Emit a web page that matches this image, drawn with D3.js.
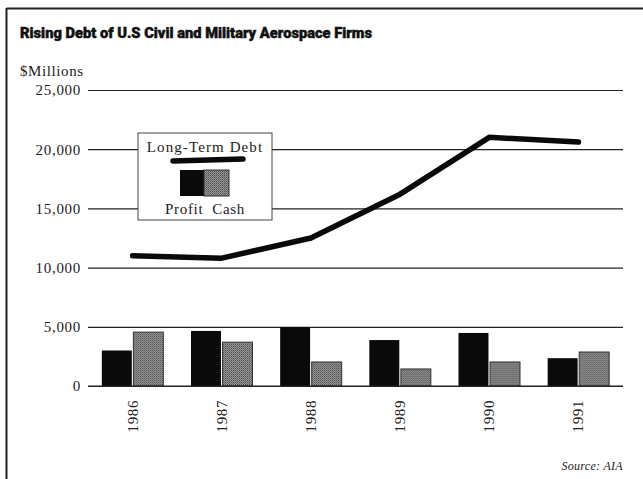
<!DOCTYPE html>
<html>
<head>
<meta charset="utf-8">
<script src="https://cdn.jsdelivr.net/npm/d3@7"></script>
<style>
  body { margin: 0; background: #fff; }
  svg { display: block; }
</style>
</head>
<body>
<div id="chart"></div>
<script>
// chart data
const years = ['1986', '1987', '1988', '1989', '1990', '1991'];
const longTermDebt = [11000, 10800, 12500, 16200, 21000, 20600];
const profit = [3000, 4650, 4980, 3880, 4480, 2350];
const cash = [4550, 3700, 2030, 1440, 2030, 2870];
const yTicks = [0, 5000, 10000, 15000, 20000, 25000];

const width = 643, height = 479;
const serif = '"Liberation Serif", "Times New Roman", serif';
const svg = d3.select('#chart').append('svg')
    .attr('width', width)
    .attr('height', height);

// dithered gray for the cash bars
const defs = svg.append('defs');
const pat = defs.append('pattern')
    .attr('id', 'dither')
    .attr('width', 2).attr('height', 2)
    .attr('patternUnits', 'userSpaceOnUse');
pat.append('rect').attr('width', 2).attr('height', 2).attr('fill', '#9a9a9a');
pat.append('rect').attr('width', 1).attr('height', 1).attr('fill', '#4a4a4a');
pat.append('rect').attr('x', 1).attr('y', 1).attr('width', 1).attr('height', 1).attr('fill', '#6a6a6a');

// frame (top and left edges only)
svg.append('line').attr('x1', 6.5).attr('x2', width).attr('y1', 8.5).attr('y2', 8.5)
    .attr('stroke', '#222').attr('stroke-width', 2);
svg.append('line').attr('x1', 6.5).attr('x2', 6.5).attr('y1', 8).attr('y2', height)
    .attr('stroke', '#222').attr('stroke-width', 2);

svg.append('text')
    .attr('x', 20).attr('y', 38)
    .attr('font-family', 'Roboto, sans-serif')
    .attr('font-weight', 900)
    .attr('font-size', 15)
    .attr('textLength', 352)
    .attr('lengthAdjust', 'spacingAndGlyphs')
    .attr('fill', '#111')
    .attr('stroke', '#111')
    .attr('stroke-width', 0.5)
    .text('Rising Debt of U.S Civil and Military Aerospace Firms');

svg.append('text')
    .attr('x', 20).attr('y', 76)
    .attr('font-family', serif)
    .attr('font-size', 15)
    .attr('letter-spacing', 0.6)
    .attr('fill', '#222')
    .text('$Millions');

const x0 = d3.scaleBand().domain(years).range([88, 623]).paddingInner(0.31).paddingOuter(0.155);
const x1 = d3.scaleBand().domain(['profit', 'cash']).range([0, x0.bandwidth()]).paddingInner(0.05);
const y = d3.scaleLinear().domain([0, 25000]).range([386, 90]);

// horizontal gridlines
const yAxis = d3.axisLeft(y)
    .tickValues(yTicks)
    .tickSize(-535)
    .tickPadding(7)
    .tickFormat(d => d === 0 ? '0' : d3.format(',')(d));
const yg = svg.append('g').attr('transform', 'translate(88,0)').call(yAxis);
yg.select('.domain').remove();
yg.selectAll('.tick line').attr('stroke', '#222').attr('stroke-width', 1.2);
yg.selectAll('.tick text')
    .attr('font-family', serif)
    .attr('font-size', 15)
    .attr('letter-spacing', 0.7)
    .attr('fill', '#222');

// bars
const groups = svg.append('g').selectAll('g')
    .data(years)
    .join('g')
    .attr('transform', d => `translate(${x0(d)},0)`);

groups.append('rect')
    .attr('x', x1('profit'))
    .attr('width', x1.bandwidth())
    .attr('y', (d, i) => y(profit[i]))
    .attr('height', (d, i) => y(0) - y(profit[i]))
    .attr('fill', '#0a0a0a');

groups.append('rect')
    .attr('x', x1('cash'))
    .attr('width', x1.bandwidth())
    .attr('y', (d, i) => y(cash[i]))
    .attr('height', (d, i) => y(0) - y(cash[i]))
    .attr('fill', 'url(#dither)')
    .attr('stroke', '#333')
    .attr('stroke-width', 1);

// baseline redrawn over bars
svg.append('line').attr('x1', 88).attr('x2', 623).attr('y1', y(0)).attr('y2', y(0))
    .attr('stroke', '#222').attr('stroke-width', 1.2);

// year labels, rotated
svg.append('g').selectAll('text')
    .data(years)
    .join('text')
    .attr('transform', d => `translate(${x0(d) + x0.bandwidth() / 2 + 5},400) rotate(-90)`)
    .attr('text-anchor', 'end')
    .attr('font-family', serif)
    .attr('font-size', 15)
    .attr('letter-spacing', 0.6)
    .attr('fill', '#222')
    .text(d => d);

// long-term debt line
const line = d3.line()
    .x((d, i) => x0(years[i]) + x0.bandwidth() / 2)
    .y(d => y(d));
svg.append('path')
    .datum(longTermDebt)
    .attr('d', line)
    .attr('fill', 'none')
    .attr('stroke', '#0a0a0a')
    .attr('stroke-width', 5.5)
    .attr('stroke-linecap', 'round')
    .attr('stroke-linejoin', 'round');

// legend box
const lg = svg.append('g').attr('transform', 'translate(138,133)');
lg.append('rect')
    .attr('width', 134).attr('height', 87)
    .attr('fill', '#fff')
    .attr('stroke', '#444').attr('stroke-width', 1);
lg.append('text')
    .attr('x', 67).attr('y', 19)
    .attr('text-anchor', 'middle')
    .attr('font-family', serif)
    .attr('font-size', 15)
    .attr('letter-spacing', 1.1)
    .attr('fill', '#222')
    .text('Long-Term Debt');
lg.append('path')
    .attr('d', 'M35,28 L105,26')
    .attr('stroke', '#0a0a0a')
    .attr('stroke-width', 5.5)
    .attr('stroke-linecap', 'round');
lg.append('rect').attr('x', 42).attr('y', 37).attr('width', 24).attr('height', 26).attr('fill', '#0a0a0a');
lg.append('rect').attr('x', 66).attr('y', 37).attr('width', 25).attr('height', 26)
    .attr('fill', 'url(#dither)').attr('stroke', '#333').attr('stroke-width', 1);
lg.append('text')
    .attr('x', 67).attr('y', 81)
    .attr('text-anchor', 'middle')
    .attr('font-family', serif)
    .attr('font-size', 15)
    .attr('letter-spacing', 0.7)
    .attr('fill', '#222')
    .attr('xml:space', 'preserve')
    .text('Profit  Cash');

svg.append('text')
    .attr('x', 623).attr('y', 470)
    .attr('text-anchor', 'end')
    .attr('font-family', serif)
    .attr('font-style', 'italic')
    .attr('font-size', 12)
    .attr('letter-spacing', 0.3)
    .attr('fill', '#222')
    .text('Source: AIA');
</script>
</body>
</html>
